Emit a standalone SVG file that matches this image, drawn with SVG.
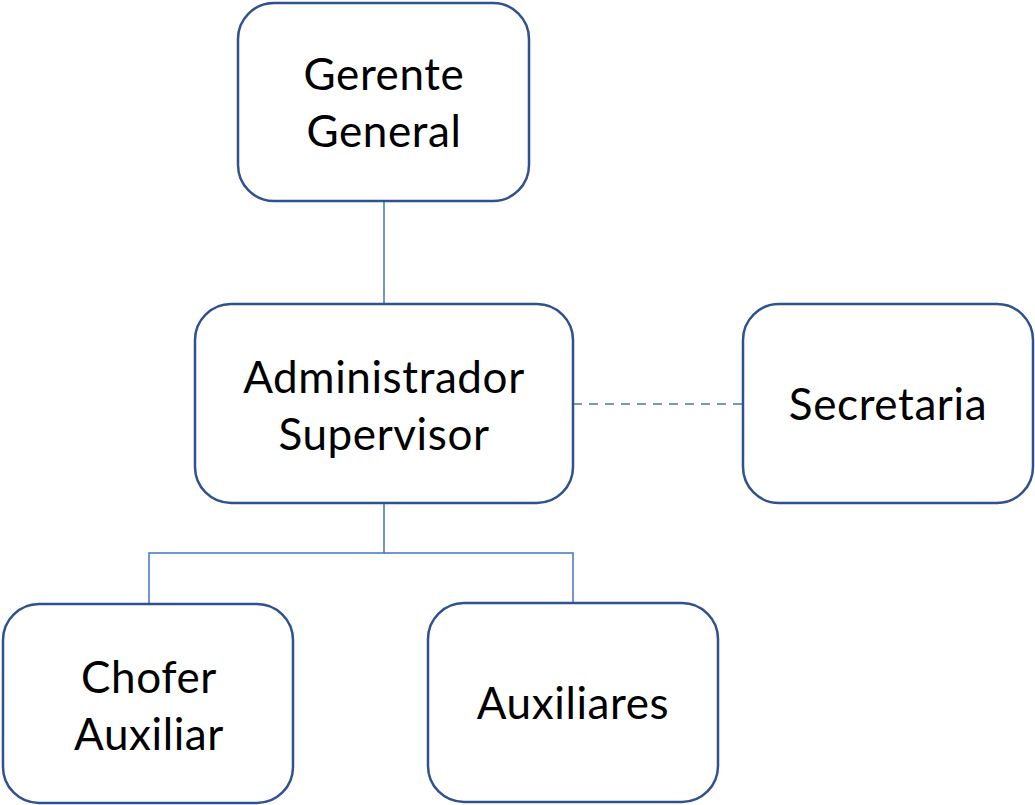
<svg xmlns="http://www.w3.org/2000/svg" width="1035" height="805" viewBox="0 0 1035 805">
<style>
.box{fill:#fff;stroke:#2F528F;stroke-width:2.5}
.lbl{font-family:Lato,"Open Sans",sans-serif;font-size:44px;letter-spacing:0.6px;fill:#000;text-anchor:middle}
.con{fill:none;stroke:#4472C4;stroke-width:1.5}
.dash{stroke-dasharray:9 7}
</style>
<rect width="1035" height="805" fill="#fff"/>
<g id="connectors">
<line class="con" x1="384" y1="202" x2="384" y2="304"/>
<polyline class="con" points="384,503 384,553 149,553 149,604"/>
<polyline class="con" points="384,553 573,553 573,603"/>
<line class="con dash" x1="573" y1="404" x2="743" y2="404"/>
</g>
<g id="gerente">
<rect class="box" x="238" y="3" width="291" height="198" rx="36"/>
<text class="lbl" x="384" y="90">Gerente</text>
<text class="lbl" x="384" y="147">General</text>
</g>
<g id="administrador">
<rect class="box" x="195" y="304" width="378" height="199" rx="36"/>
<text class="lbl" x="384" y="393">Administrador</text>
<text class="lbl" x="384" y="450">Supervisor</text>
</g>
<g id="secretaria">
<rect class="box" x="743" y="304" width="290" height="199" rx="36"/>
<text class="lbl" x="888" y="420">Secretaria</text>
</g>
<g id="chofer">
<rect class="box" x="3" y="604" width="290" height="199" rx="36"/>
<text class="lbl" x="149" y="693">Chofer</text>
<text class="lbl" x="149" y="750">Auxiliar</text>
</g>
<g id="auxiliares">
<rect class="box" x="428" y="603" width="290" height="199" rx="36"/>
<text class="lbl" x="573" y="719">Auxiliares</text>
</g>
</svg>
